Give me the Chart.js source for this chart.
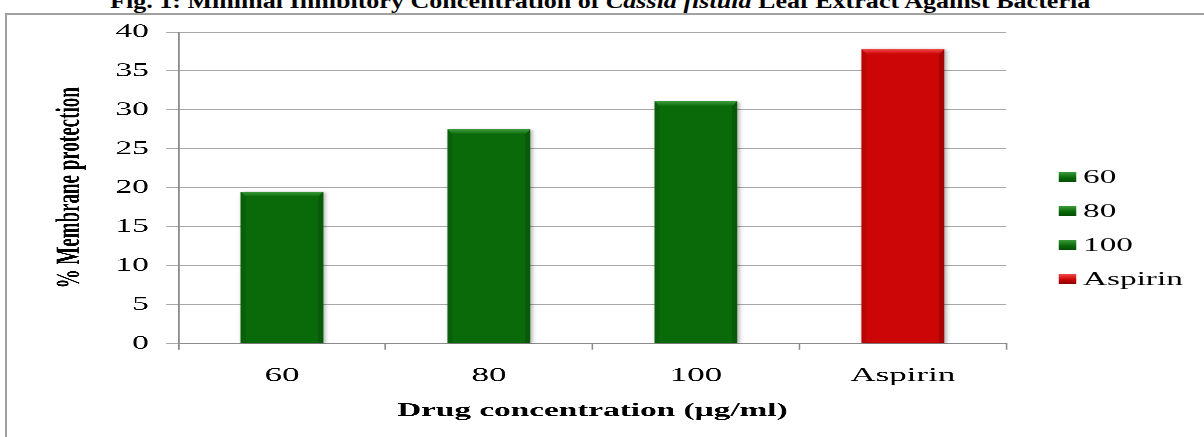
<!DOCTYPE html>
<html>
<head>
<meta charset="utf-8">
<script src="https://cdn.jsdelivr.net/npm/chart.js@4.4.0/dist/chart.umd.min.js"></script>
<style>
  html, body { margin: 0; padding: 0; background: #fff; overflow: hidden; }
  body { width: 1204px; height: 437px; position: relative; }
  #frame { position: absolute; left: 5px; top: 13px; width: 1300px; height: 500px;
           border: 2px solid #a0a0a0; box-sizing: border-box; }
  #fig { position: absolute; top: -10px; left: 110px; white-space: nowrap;
         font: bold 20px "Liberation Serif"; line-height: 22px; transform-origin: 0 0; }
  /* the source picture is stretched sideways, so the chart is drawn narrow and widened */
  #stretch { position: absolute; left: 0; top: 0; width: 688px; height: 437px;
             transform: scaleX(1.75); transform-origin: 0 0; }
  #legend { position: absolute; left: 604.6px; top: 160px; font: 19px "Liberation Serif"; color: #000; }
  .item { height: 34px; display: flex; align-items: center; }
  .box { width: 10.3px; height: 10px; margin-right: 4px; }
</style>
</head>
<body>
<div id="fig">Fig. 1: Minimal Inhibitory Concentration of <i>Cassia fistula</i> Leaf Extract Against Bacteria</div>
<div id="frame"></div>
<div id="stretch">
  <canvas id="membraneChart" width="688" height="437"></canvas>
  <div id="legend"></div>
</div>
<script>
const categories = ['60', '80', '100', 'Aspirin'];
const protection = [19.5, 27.5, 31.1, 37.8];
const barColors = ['#0a6a0a', '#0a6a0a', '#0a6a0a', '#cc0606'];
const bevelTop = ['#3c9c3c', '#3c9c3c', '#3c9c3c', '#f24848'];
const bevelDark = ['#054c05', '#054c05', '#054c05', '#8a0202'];
const yMin = 0;
const yMax = 40;
const yStep = 5;

// fit the half-hidden caption to the width it has in the picture
const fig = document.getElementById('fig');
fig.style.transform = 'scaleX(' + (980 / fig.offsetWidth) + ')';

// legend built from the same arrays
const legendBox = document.getElementById('legend');
categories.forEach((cat, i) => {
  const item = document.createElement('div');
  item.className = 'item';
  const box = document.createElement('span');
  box.className = 'box';
  box.style.background = 'linear-gradient(' + bevelTop[i] + ' 0%, ' + barColors[i] + ' 55%, ' + bevelDark[i] + ' 100%)';
  item.appendChild(box);
  item.appendChild(document.createTextNode(cat));
  legendBox.appendChild(item);
});

const bevelPlugin = {
  id: 'bevel',
  beforeDatasetsDraw(chart) {
    const ctx = chart.ctx;
    ctx.save();
    ctx.shadowColor = 'rgba(0,0,0,0.35)';
    ctx.shadowBlur = 8;
    ctx.shadowOffsetX = 3;
    ctx.shadowOffsetY = 2;
  },
  afterDatasetsDraw(chart) {
    const ctx = chart.ctx;
    ctx.restore();
    const meta = chart.getDatasetMeta(0);
    meta.data.forEach((bar, i) => {
      const p = bar.getProps(['x', 'y', 'base', 'width'], true);
      const l = p.x - p.width / 2, r = p.x + p.width / 2;
      const bh = 5, bw = bh / 1.75;
      ctx.save();
      // top bevel
      const g = ctx.createLinearGradient(0, p.y, 0, p.y + bh);
      g.addColorStop(0, bevelTop[i]);
      g.addColorStop(1, barColors[i]);
      ctx.fillStyle = g;
      ctx.beginPath();
      ctx.moveTo(l, p.y); ctx.lineTo(r, p.y);
      ctx.lineTo(r - bw, p.y + bh); ctx.lineTo(l + bw, p.y + bh);
      ctx.closePath(); ctx.fill();
      // right shade
      ctx.fillStyle = bevelDark[i];
      ctx.globalAlpha = 0.55;
      ctx.beginPath();
      ctx.moveTo(r, p.y); ctx.lineTo(r, p.base);
      ctx.lineTo(r - bw, p.base); ctx.lineTo(r - bw, p.y + bh);
      ctx.closePath(); ctx.fill();
      // left shade
      ctx.globalAlpha = 0.3;
      ctx.beginPath();
      ctx.moveTo(l, p.y); ctx.lineTo(l, p.base);
      ctx.lineTo(l + bw, p.base); ctx.lineTo(l + bw, p.y + bh);
      ctx.closePath(); ctx.fill();
      ctx.restore();
    });
  }
};

const serif = 'Liberation Serif';
const ctx = document.getElementById('membraneChart').getContext('2d');
new Chart(ctx, {
  type: 'bar',
  data: {
    labels: categories,
    datasets: [{
      label: '% Membrane protection',
      data: protection,
      backgroundColor: barColors,
      barPercentage: 0.4,
      categoryPercentage: 1.0
    }]
  },
  options: {
    responsive: false,
    animation: false,
    devicePixelRatio: 3,
    layout: { padding: { top: 32, right: 113, bottom: 14.6, left: 20 } },
    plugins: {
      legend: { display: false },
      tooltip: { enabled: false }
    },
    scales: {
      x: {
        grid: { display: true, drawOnChartArea: false, offset: true, tickLength: 6, color: '#8c8c8c' },
        border: { color: '#8c8c8c' },
        ticks: { color: '#000', padding: 14, font: { family: serif, size: 20 } },
        title: {
          display: true,
          text: 'Drug concentration (µg/ml)',
          color: '#000',
          font: { family: serif, size: 19, weight: 'bold' },
          padding: { top: -2, bottom: 0 }
        }
      },
      y: {
        min: yMin,
        max: yMax,
        ticks: { stepSize: yStep, color: '#000', padding: 10, font: { family: serif, size: 19 } },
        grid: { color: '#a8a8a8', tickLength: 7 },
        border: { color: '#8c8c8c' },
        title: {
          display: true,
          text: '% Membrane protection',
          color: '#000',
          font: { family: serif, size: 19, weight: 'bold' },
          padding: { top: 8.6, bottom: 4.6 }
        }
      }
    }
  },
  plugins: [bevelPlugin]
});
</script>
</body>
</html>
